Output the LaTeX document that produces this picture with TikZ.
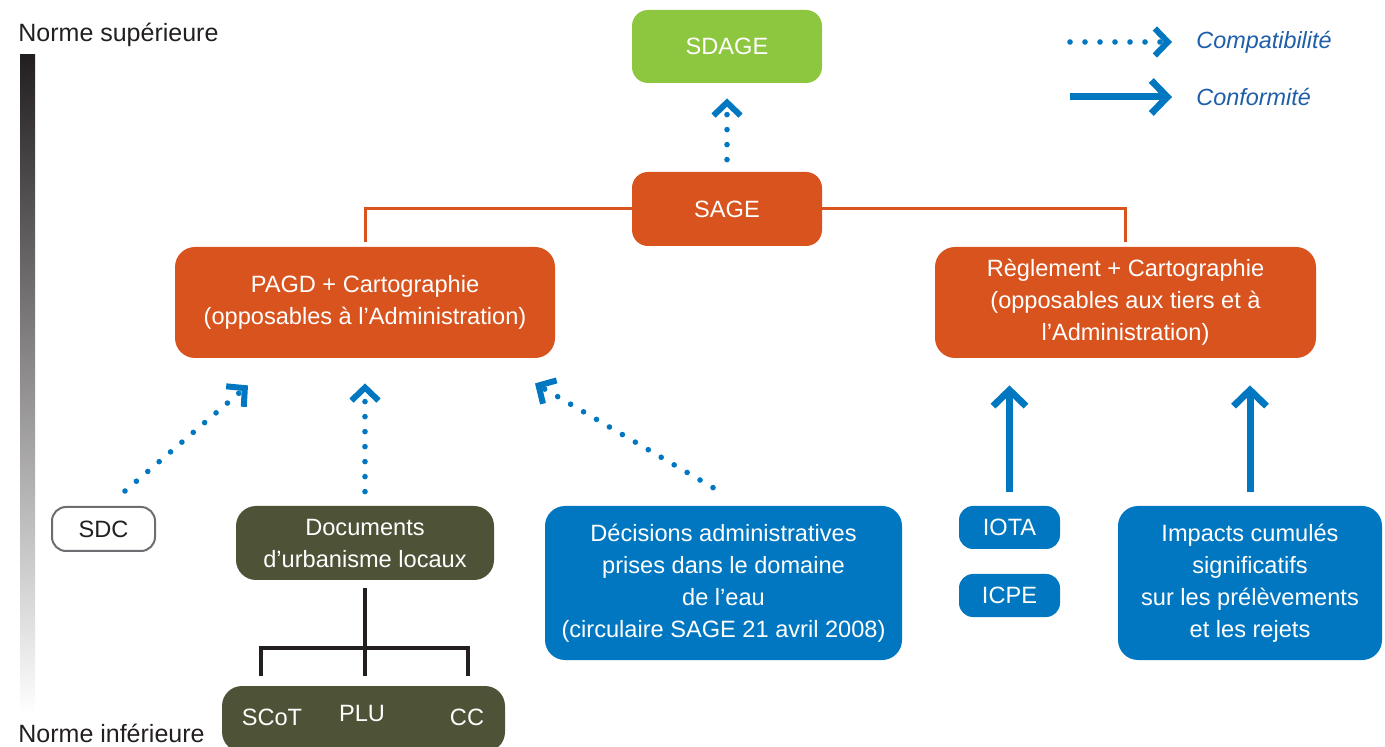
\documentclass[tikz,border=0pt]{standalone}
\usepackage{fontspec}
\setmainfont{Liberation Sans}
\usetikzlibrary{arrows.meta}

\definecolor{sdagegreen}{HTML}{8DC63F}
\definecolor{sageorange}{HTML}{D9531E}
\definecolor{urbaolive}{HTML}{4E5337}
\definecolor{eaublue}{HTML}{0077C0}
\definecolor{legendblue}{HTML}{1F5FA8}
\definecolor{inkblack}{HTML}{231F20}
\definecolor{sdcgray}{HTML}{6D6E71}

\begin{document}
\begin{tikzpicture}[x=0.5pt, y=-0.5pt,
        box/.style={rounded corners=10pt, inner sep=0, align=center, text=white,
            font=\fontsize{11.8}{16}\selectfont},
        plain/.style={inner sep=0, font=\fontsize{11.8}{16}\selectfont},
        compat/.style={eaublue, line width=2.8pt, line cap=round,
            dash pattern=on 0pt off 7.5pt,
            -{Straight Barb[length=6.5pt, width=13.5pt, line width=3pt]}},
        conform/.style={eaublue, line width=3.5pt,
            -{Straight Barb[length=8pt, width=16.5pt, line width=3.4pt]}},
        link/.style={sageorange, line width=1.5pt},
        tree/.style={inkblack, line width=2pt}]
    \useasboundingbox (0,0) rectangle (1385,747);

    % echelle des normes
    \shade[top color=inkblack, bottom color=white] (20,55) rectangle (35,715);
    \node[plain, anchor=west, font=\fontsize{12.5}{15}\selectfont, text=inkblack] (sup) at (18,35) {Norme supérieure};
    \node[plain, anchor=west, font=\fontsize{12.5}{15}\selectfont, text=inkblack] (inf) at (18,733) {Norme inférieure};

    % legende
    \node[plain, anchor=west, font=\itshape\fontsize{11.7}{14}\selectfont, text=legendblue] (lcompat) at (1196,42) {Compatibilité};
    \node[plain, anchor=west, font=\itshape\fontsize{11.7}{14}\selectfont, text=legendblue] (lconform) at (1196,97) {Conformité};
    \draw[compat] ([xshift=-63pt]lcompat.west) -- ([xshift=-12pt]lcompat.west);
    \draw[conform] ([xshift=-63pt]lconform.west) -- ([xshift=-12pt]lconform.west);

    % boites
    \node[box, fill=sdagegreen, rounded corners=8pt, minimum width=95pt, minimum height=36.5pt] (sdage) at (727,46.5) {SDAGE};
    \node[box, fill=sageorange, rounded corners=8pt, minimum width=95pt, minimum height=37pt] (sage) at (727,209) {SAGE};
    \node[box, fill=sageorange, minimum width=190pt, minimum height=55.5pt] (pagd) at (365,302.5) {PAGD + Cartographie\\(opposables à l’Administration)};
    \node[box, fill=sageorange, minimum width=190.5pt, minimum height=55.5pt] (regl) at (1125.5,302.5) {Règlement + Cartographie\\(opposables aux tiers et à\\l’Administration)};
    \node[box, fill=white, draw=sdcgray, line width=1pt, text=inkblack, rounded corners=7pt, minimum width=51.5pt, minimum height=22pt] (sdc) at (103.5,529) {SDC};
    \node[box, fill=urbaolive, minimum width=129pt, minimum height=37pt] (docs) at (365,543) {Documents\\d’urbanisme locaux};
    \node[box, fill=urbaolive, minimum width=141.5pt, minimum height=33pt] (local) at (363.5,719) {};
    \node[plain, text=white] (scot) at (272,717) {SCoT};
    \node[plain, text=white] (plu) at (362,713) {PLU};
    \node[plain, text=white] (cc) at (467,717) {CC};
    \node[box, fill=eaublue, minimum width=178.5pt, minimum height=77pt] (decis) at (723.5,583) {Décisions administratives\\prises dans le domaine\\de l’eau\\(circulaire SAGE 21 avril 2008)};
    \node[box, fill=eaublue, rounded corners=7pt, minimum width=50.5pt, minimum height=21.5pt] (iota) at (1009.5,527.5) {IOTA};
    \node[box, fill=eaublue, rounded corners=7pt, minimum width=50.5pt, minimum height=21.5pt] (icpe) at (1009.5,595.5) {ICPE};
    \node[box, fill=eaublue, minimum width=132pt, minimum height=77pt] (impacts) at (1250,583) {Impacts cumulés\\significatifs\\sur les prélèvements\\et les rejets};

    % liens SAGE
    \draw[link] (sage.west) -| ([yshift=2.5pt]pagd.north);
    \draw[link] (sage.east) -| ([yshift=2.5pt]regl.north);

    % arborescence documents d'urbanisme
    \coordinate (forkl) at (261,676);
    \coordinate (forkr) at (468,676);
    \draw[tree] ([yshift=-4pt]docs.south) -- ([yshift=5pt]docs.south |- local.north);
    \draw[tree] (forkl) -- ++(0,-28) -| (forkr);

    % compatibilite
    \draw[compat] ([yshift=6pt]sage.north) -- ([yshift=-7.5pt]sdage.south);
    \draw[compat] ([xshift=10.75pt, yshift=7.5pt]sdc.north) -- ([xshift=-58.5pt, yshift=-13.5pt]pagd.south);
    \draw[compat] ([yshift=7pt]docs.north) -- ([yshift=-12.5pt]pagd.south);
    \draw[compat] ([xshift=-5.25pt, yshift=9pt]decis.north) -- ([xshift=85pt, yshift=-12.5pt]pagd.south);

    % conformite
    \draw[conform] ([yshift=7pt]iota.north) -- ([yshift=-13.5pt]iota.north |- regl.south);
    \draw[conform] ([yshift=7pt]impacts.north) -- ([yshift=-13.5pt]impacts.north |- regl.south);
\end{tikzpicture}
\end{document}
